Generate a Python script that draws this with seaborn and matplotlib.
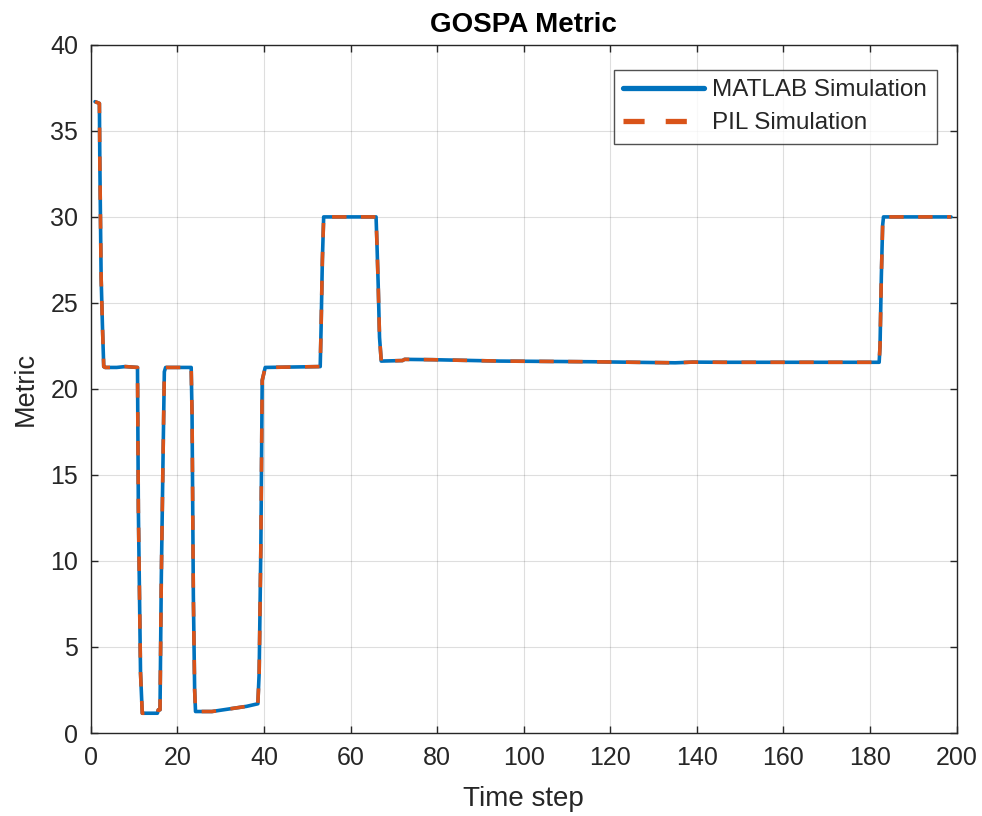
import numpy as np
import pandas as pd
import matplotlib
matplotlib.use("Agg")
import matplotlib.pyplot as plt
import seaborn as sns

# ---- data ----
time_step = [1.0, 2.0, 2.1, 2.4, 2.7, 3.0, 3.3, 6.0, 8.0, 10.8, 11.0, 11.5, 11.9,
             15.4, 15.6, 16.0, 16.3, 16.7, 17.0, 17.3, 23.2, 23.4, 23.7, 24.0, 24.2,
             28.0, 32.0, 36.0, 38.6, 38.9, 39.3, 39.6, 40.3, 53.0, 53.2, 53.5, 53.8,
             65.9, 66.1, 66.4, 66.7, 67.1, 72.0, 72.5, 79.0, 94.5, 116.0, 135.0, 139.0,
             146.0, 170.0, 182.1, 182.3, 182.6, 182.9, 183.1, 198.7]
matlab_metric = [36.7, 36.6, 33.2, 26.5, 23.7, 21.3, 21.25, 21.25, 21.3, 21.25, 13.0, 3.5, 1.15,
                 1.15, 1.35, 1.35, 9.0, 16.0, 21.0, 21.25, 21.25, 18.5, 8.0, 2.5, 1.25,
                 1.25, 1.4, 1.55, 1.7, 3.5, 11.0, 20.5, 21.25, 21.3, 23.5, 27.5, 30.0,
                 30.0, 28.5, 26.0, 23.0, 21.62, 21.65, 21.72, 21.7, 21.62, 21.58, 21.52, 21.56,
                 21.55, 21.55, 21.55, 22.5, 26.5, 29.5, 30.0, 30.0]
pil_metric = list(matlab_metric)
series_names = ["MATLAB Simulation", "PIL Simulation"]
x_ticks = list(range(0, 201, 20))
y_ticks = list(range(0, 41, 5))

df = pd.DataFrame({
    "Time step": time_step * 2,
    "Metric": matlab_metric + pil_metric,
    "series": [series_names[0]] * len(time_step) + [series_names[1]] * len(time_step),
})

sns.set_style("white")
plt.rcParams["font.family"] = ["Liberation Sans", "DejaVu Sans"]

fig = plt.figure(figsize=(9.82, 8.16), dpi=100)
ax = fig.add_axes([0.0924, 0.1017, 0.8818, 0.8433])

blue = "#0072BD"
orange = "#D95319"
sns.lineplot(data=df, x="Time step", y="Metric", hue="series", style="series",
             palette={series_names[0]: blue, series_names[1]: orange},
             dashes={series_names[0]: "", series_names[1]: (4.0, 4.0)},
             estimator=None, sort=False, linewidth=2.6, ax=ax, legend=True)

ax.set_xlim(0, 200)
ax.set_ylim(0, 40)
ax.set_xticks(x_ticks)
ax.set_yticks(y_ticks)
ax.grid(True, color="#262626", alpha=0.15, linewidth=0.8)
ax.set_axisbelow(True)
for s in ax.spines.values():
    s.set_visible(True)
    s.set_color("#262626")
    s.set_linewidth(1.0)
ax.tick_params(direction="in", length=5, width=1.0, colors="#262626",
               labelsize=18, top=True, right=True, bottom=True, left=True,
               labeltop=False, labelright=False, pad=9)
for lab in ax.get_xticklabels() + ax.get_yticklabels():
    lab.set_color("#262626")

ax.set_xlabel("Time step", fontsize=20, color="#262626", labelpad=12)
ax.set_ylabel("Metric", fontsize=19.5, color="#262626", labelpad=8)
ax.set_title("GOSPA Metric", fontsize=20, fontweight="bold", color="black", pad=9)

leg = ax.legend(loc="upper right", bbox_to_anchor=(0.977, 0.964), borderaxespad=0,
                fontsize=17.5, frameon=True, fancybox=False, handlelength=3.3,
                handletextpad=0.35, borderpad=0.4, labelspacing=0.45)
leg.get_frame().set_edgecolor("#262626")
leg.get_frame().set_linewidth(1.0)
for line in leg.get_lines():
    line.set_linewidth(3.8)

fig.savefig("out.png", dpi=100)
